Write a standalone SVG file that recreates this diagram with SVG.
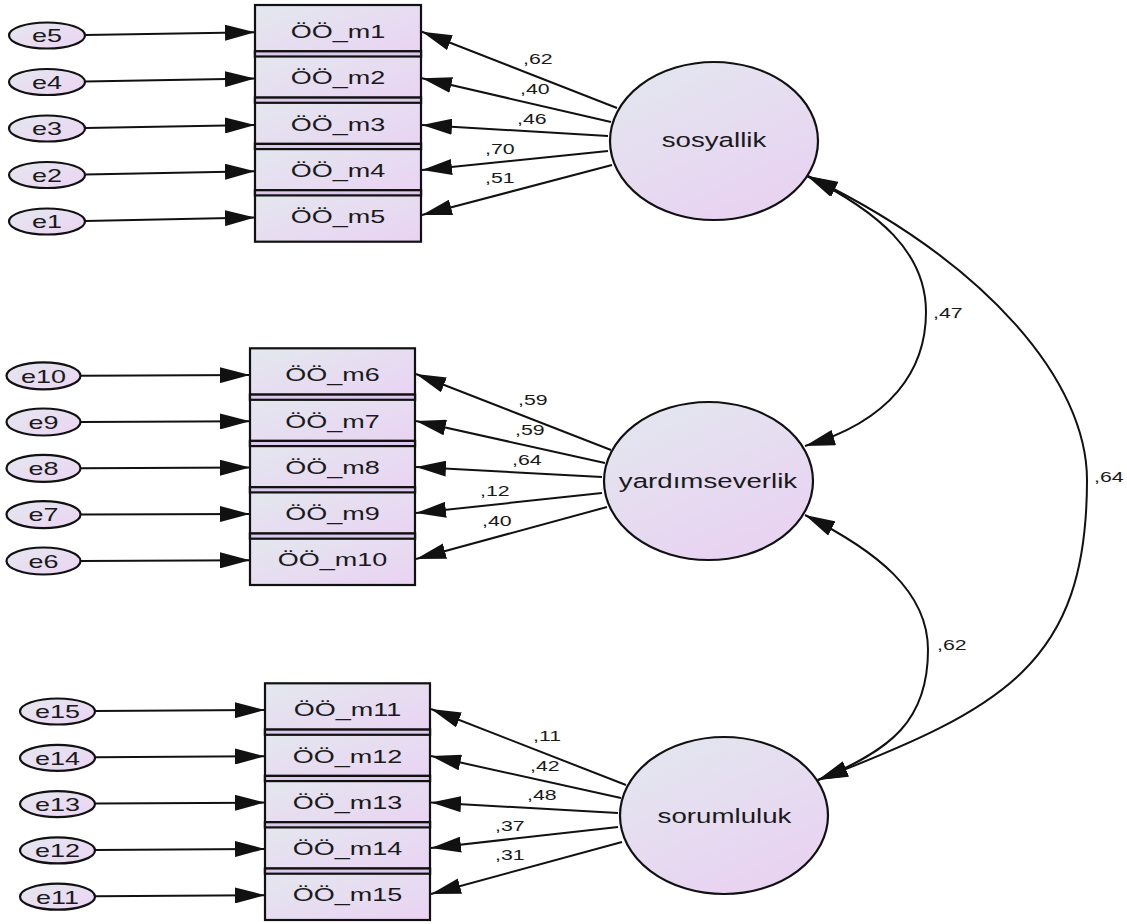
<svg xmlns="http://www.w3.org/2000/svg" width="1127" height="924" viewBox="0 0 1127 924">
<defs>
<linearGradient id="gBox" x1="0" y1="0" x2="1" y2="1"><stop offset="0" stop-color="#e3e8ee"/><stop offset="1" stop-color="#ead2f3"/></linearGradient>
<linearGradient id="gEll" x1="0" y1="0" x2="1" y2="1"><stop offset="0" stop-color="#e4e8ef"/><stop offset="1" stop-color="#ecd3f3"/></linearGradient>
<linearGradient id="gLat" x1="0.2" y1="0" x2="0.8" y2="1"><stop offset="0" stop-color="#e3e6ef"/><stop offset="1" stop-color="#e9d1f2"/></linearGradient>
<marker id="ah" viewBox="0 0 30 16" refX="30" refY="8" markerWidth="30" markerHeight="16" markerUnits="userSpaceOnUse" orient="auto-start-reverse"><path d="M0,0 L30,8 L0,16 Z" fill="#111"/></marker>
</defs>
<style>
.box{fill:url(#gBox);stroke:#111;stroke-width:2.2}
.seam{fill:#dcc8ec;stroke:#111;stroke-width:2.2}
.err{fill:url(#gEll);stroke:#111;stroke-width:2.2}
.lat{fill:url(#gLat);stroke:#111;stroke-width:2.2}
.t{font-family:"Liberation Sans",Arial,sans-serif;fill:#1a1a1a}
.bl{font-size:19px;text-anchor:middle}
.el{font-size:19px;text-anchor:middle}
.ll{font-size:19.5px;text-anchor:middle}
.cl{font-size:15px}
.arr{fill:none;stroke:#111;stroke-width:2;marker-end:url(#ah)}
.cov{fill:none;stroke:#111;stroke-width:2;marker-start:url(#ah);marker-end:url(#ah)}
</style>
<rect width="1127" height="924" fill="#fff"/>

<g id="nodes">
<g id="m1"><rect class="box" x="255" y="5" width="166" height="51.5"/><text class="t bl" transform="matrix(1.42 0 0 1 338 37.9)">ÖÖ_m1</text></g>
<g id="m2"><rect class="box" x="255" y="51.3" width="166" height="51.5"/><rect class="seam" x="255" y="51.3" width="166" height="5.2"/><text class="t bl" transform="matrix(1.42 0 0 1 338 84.2)">ÖÖ_m2</text></g>
<g id="m3"><rect class="box" x="255" y="97.6" width="166" height="51.5"/><rect class="seam" x="255" y="97.6" width="166" height="5.2"/><text class="t bl" transform="matrix(1.42 0 0 1 338 130.5)">ÖÖ_m3</text></g>
<g id="m4"><rect class="box" x="255" y="143.9" width="166" height="51.5"/><rect class="seam" x="255" y="143.9" width="166" height="5.2"/><text class="t bl" transform="matrix(1.42 0 0 1 338 176.8)">ÖÖ_m4</text></g>
<g id="m5"><rect class="box" x="255" y="190.2" width="166" height="51.5"/><rect class="seam" x="255" y="190.2" width="166" height="5.2"/><text class="t bl" transform="matrix(1.42 0 0 1 338 223.1)">ÖÖ_m5</text></g>
<g id="m6"><rect class="box" x="250" y="348.3" width="165" height="51.5"/><text class="t bl" transform="matrix(1.42 0 0 1 332.5 381.2)">ÖÖ_m6</text></g>
<g id="m7"><rect class="box" x="250" y="394.6" width="165" height="51.5"/><rect class="seam" x="250" y="394.6" width="165" height="5.2"/><text class="t bl" transform="matrix(1.42 0 0 1 332.5 427.5)">ÖÖ_m7</text></g>
<g id="m8"><rect class="box" x="250" y="440.9" width="165" height="51.5"/><rect class="seam" x="250" y="440.9" width="165" height="5.2"/><text class="t bl" transform="matrix(1.42 0 0 1 332.5 473.8)">ÖÖ_m8</text></g>
<g id="m9"><rect class="box" x="250" y="487.2" width="165" height="51.5"/><rect class="seam" x="250" y="487.2" width="165" height="5.2"/><text class="t bl" transform="matrix(1.42 0 0 1 332.5 520.1)">ÖÖ_m9</text></g>
<g id="m10"><rect class="box" x="250" y="533.5" width="165" height="51.5"/><rect class="seam" x="250" y="533.5" width="165" height="5.2"/><text class="t bl" transform="matrix(1.42 0 0 1 332.5 566.4)">ÖÖ_m10</text></g>
<g id="m11"><rect class="box" x="265" y="683.3" width="165" height="51.5"/><text class="t bl" transform="matrix(1.42 0 0 1 347.5 716.2)">ÖÖ_m11</text></g>
<g id="m12"><rect class="box" x="265" y="729.6" width="165" height="51.5"/><rect class="seam" x="265" y="729.6" width="165" height="5.2"/><text class="t bl" transform="matrix(1.42 0 0 1 347.5 762.5)">ÖÖ_m12</text></g>
<g id="m13"><rect class="box" x="265" y="775.9" width="165" height="51.5"/><rect class="seam" x="265" y="775.9" width="165" height="5.2"/><text class="t bl" transform="matrix(1.42 0 0 1 347.5 808.8)">ÖÖ_m13</text></g>
<g id="m14"><rect class="box" x="265" y="822.2" width="165" height="51.5"/><rect class="seam" x="265" y="822.2" width="165" height="5.2"/><text class="t bl" transform="matrix(1.42 0 0 1 347.5 855.1)">ÖÖ_m14</text></g>
<g id="m15"><rect class="box" x="265" y="868.5" width="165" height="51.5"/><rect class="seam" x="265" y="868.5" width="165" height="5.2"/><text class="t bl" transform="matrix(1.42 0 0 1 347.5 901.4)">ÖÖ_m15</text></g>

<g id="e5"><ellipse class="err" cx="47" cy="35.5" rx="38" ry="13"/><text class="t el" transform="matrix(1.42 0 0 1 47 42.3)">e5</text></g>
<g id="e4"><ellipse class="err" cx="47" cy="82" rx="38" ry="13"/><text class="t el" transform="matrix(1.42 0 0 1 47 88.8)">e4</text></g>
<g id="e3"><ellipse class="err" cx="47" cy="128.5" rx="38" ry="13"/><text class="t el" transform="matrix(1.42 0 0 1 47 135.3)">e3</text></g>
<g id="e2"><ellipse class="err" cx="47" cy="175" rx="38" ry="13"/><text class="t el" transform="matrix(1.42 0 0 1 47 181.8)">e2</text></g>
<g id="e1"><ellipse class="err" cx="47" cy="221.5" rx="38" ry="13"/><text class="t el" transform="matrix(1.42 0 0 1 47 228.3)">e1</text></g>

<g id="e10"><ellipse class="err" cx="43.5" cy="375.8" rx="37" ry="13.5"/><text class="t el" transform="matrix(1.42 0 0 1 43.5 382.6)">e10</text></g>
<g id="e9"><ellipse class="err" cx="43.5" cy="422" rx="37" ry="13.5"/><text class="t el" transform="matrix(1.42 0 0 1 43.5 428.8)">e9</text></g>
<g id="e8"><ellipse class="err" cx="43.5" cy="468.3" rx="37" ry="13.5"/><text class="t el" transform="matrix(1.42 0 0 1 43.5 475.1)">e8</text></g>
<g id="e7"><ellipse class="err" cx="43.5" cy="514.6" rx="37" ry="13.5"/><text class="t el" transform="matrix(1.42 0 0 1 43.5 521.4)">e7</text></g>
<g id="e6"><ellipse class="err" cx="43.5" cy="561" rx="37" ry="13.5"/><text class="t el" transform="matrix(1.42 0 0 1 43.5 567.8)">e6</text></g>

<g id="e15"><ellipse class="err" cx="57.5" cy="711.5" rx="37.5" ry="13"/><text class="t el" transform="matrix(1.42 0 0 1 57.5 718.3)">e15</text></g>
<g id="e14"><ellipse class="err" cx="57.5" cy="757.8" rx="37.5" ry="13"/><text class="t el" transform="matrix(1.42 0 0 1 57.5 764.6)">e14</text></g>
<g id="e13"><ellipse class="err" cx="57.5" cy="804.1" rx="37.5" ry="13"/><text class="t el" transform="matrix(1.42 0 0 1 57.5 810.9)">e13</text></g>
<g id="e12"><ellipse class="err" cx="57.5" cy="850.4" rx="37.5" ry="13"/><text class="t el" transform="matrix(1.42 0 0 1 57.5 857.2)">e12</text></g>
<g id="e11"><ellipse class="err" cx="57.5" cy="896.7" rx="37.5" ry="13"/><text class="t el" transform="matrix(1.42 0 0 1 57.5 903.5)">e11</text></g>

<g id="sosyallik"><ellipse class="lat" cx="714" cy="141" rx="104" ry="79"/><text class="t ll" transform="matrix(1.42 0 0 1 714 146.7)">sosyallik</text></g>
<g id="yardimseverlik"><ellipse class="lat" cx="708.5" cy="481" rx="104.5" ry="79"/><text class="t ll" transform="matrix(1.42 0 0 1 708 488.3)">yardımseverlik</text></g>
<g id="sorumluluk"><ellipse class="lat" cx="724" cy="815.5" rx="104" ry="78.5"/><text class="t ll" transform="matrix(1.42 0 0 1 724.5 823.3)">sorumluluk</text></g>
</g>

<g id="connectors">
<path class="arr" d="M85,35 L255,32.3"/>
<path class="arr" d="M85,81.5 L255,78.6"/>
<path class="arr" d="M85,128 L255,124.9"/>
<path class="arr" d="M85,174.5 L255,171.2"/>
<path class="arr" d="M85,221 L255,217.5"/>
<path class="arr" d="M80.5,375.8 L250,375"/>
<path class="arr" d="M80.5,422 L250,421.3"/>
<path class="arr" d="M80.5,468.3 L250,467.6"/>
<path class="arr" d="M80.5,514.6 L250,513.9"/>
<path class="arr" d="M80.5,561 L250,560.2"/>
<path class="arr" d="M95,711 L265,710"/>
<path class="arr" d="M95,757.3 L265,756.3"/>
<path class="arr" d="M95,803.6 L265,802.6"/>
<path class="arr" d="M95,849.9 L265,848.9"/>
<path class="arr" d="M95,896.2 L265,895.2"/>
<path class="arr" d="M617,108 L422,31.7"/>
<path class="arr" d="M611,122 L422,78.3"/>
<path class="arr" d="M608,136 L422,125"/>
<path class="arr" d="M608,151 L422,170"/>
<path class="arr" d="M612,165 L422,215"/>
<path class="arr" d="M611,450 L416,374"/>
<path class="arr" d="M605,463 L416,421"/>
<path class="arr" d="M602,477 L416,467"/>
<path class="arr" d="M602,493 L416,513"/>
<path class="arr" d="M607,507 L416,559"/>
<path class="arr" d="M626,785 L431,709"/>
<path class="arr" d="M621,798 L431,756"/>
<path class="arr" d="M618,813 L431,802.5"/>
<path class="arr" d="M618,827 L431,848"/>
<path class="arr" d="M622,842 L431,894"/>
<path class="cov" d="M807,176 C878.5,211.8 926,252 926,312 C926,370 891,421 805,446"/>
<path class="cov" d="M805,515 C876.5,551 928,591 928,650 C928,720 892,750 818,780"/>
<path class="cov" d="M808,176 C988,263 1087,382 1087,480 C1087,664 1004,708 818,780"/>
</g>

<g id="labels">
<text class="t cl" transform="matrix(1.42 0 0 1 523 63.5)">,62</text>
<text class="t cl" transform="matrix(1.42 0 0 1 520 93.5)">,40</text>
<text class="t cl" transform="matrix(1.42 0 0 1 517 123.5)">,46</text>
<text class="t cl" transform="matrix(1.42 0 0 1 485 153.5)">,70</text>
<text class="t cl" transform="matrix(1.42 0 0 1 485 182.5)">,51</text>
<text class="t cl" transform="matrix(1.42 0 0 1 518 404.5)">,59</text>
<text class="t cl" transform="matrix(1.42 0 0 1 515 434.5)">,59</text>
<text class="t cl" transform="matrix(1.42 0 0 1 512 464.5)">,64</text>
<text class="t cl" transform="matrix(1.42 0 0 1 480 495.5)">,12</text>
<text class="t cl" transform="matrix(1.42 0 0 1 482 525.5)">,40</text>
<text class="t cl" transform="matrix(1.42 0 0 1 533 740.5)">,11</text>
<text class="t cl" transform="matrix(1.42 0 0 1 530 770.5)">,42</text>
<text class="t cl" transform="matrix(1.42 0 0 1 527 799.5)">,48</text>
<text class="t cl" transform="matrix(1.42 0 0 1 495 830.5)">,37</text>
<text class="t cl" transform="matrix(1.42 0 0 1 495 859.5)">,31</text>
<text class="t cl" transform="matrix(1.42 0 0 1 933 317.5)">,47</text>
<text class="t cl" transform="matrix(1.42 0 0 1 1094 481.5)">,64</text>
<text class="t cl" transform="matrix(1.42 0 0 1 937 649.5)">,62</text>
</g>
</svg>
